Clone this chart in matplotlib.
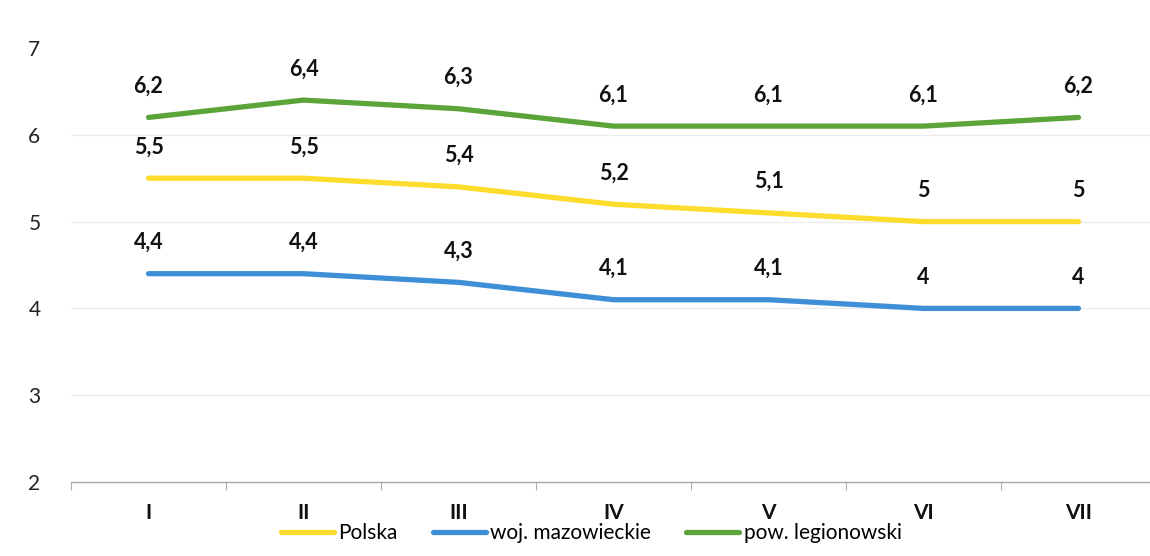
import matplotlib
matplotlib.use("Agg")
import matplotlib.pyplot as plt

months = ["I", "II", "III", "IV", "V", "VI", "VII"]
polska = [5.5, 5.5, 5.4, 5.2, 5.1, 5.0, 5.0]
mazowieckie = [4.4, 4.4, 4.3, 4.1, 4.1, 4.0, 4.0]
legionowski = [6.2, 6.4, 6.3, 6.1, 6.1, 6.1, 6.2]
series_names = ["Polska", "woj. mazowieckie", "pow. legionowski"]
colors = ["#fddc2e", "#3f8fd8", "#5aa43a"]
yticks = [2, 3, 4, 5, 6, 7]

plt.rcParams['font.family'] = ['Lato', 'DejaVu Sans']

W, H = 1150, 556
fig = plt.figure(figsize=(W / 100, H / 100), dpi=100)
left, right = 71 / W, 1156 / W
bottom, top = 1 - 482 / H, 1 - 48 / H
ax = fig.add_axes([left, bottom, right - left, top - bottom])

x = list(range(len(months)))
lines = []
for vals, c, name in zip([polska, mazowieckie, legionowski], colors, series_names):
    ln, = ax.plot(x, vals, color=c, lw=3.8, solid_capstyle='round', label=name, zorder=3)
    lines.append(ln)
    for xi, v in zip(x, vals):
        s = f"{v:g}".replace('.', ',')
        ax.annotate(s, (xi, v), xytext=(0, 15), textcoords='offset points',
                    ha='center', va='bottom', fontsize=15.5, fontweight='bold', color='#111111')

ax.set_xlim(-0.5, 6.5)
ax.set_ylim(2, 7)
ax.set_yticks(yticks)
ax.set_yticklabels([str(t) for t in yticks], fontsize=15, color='#222222')
for t in yticks[1:-1]:
    ax.axhline(t, color='#ececec', lw=0.9, zorder=1)

ax.set_xticks(x)
ax.set_xticklabels(months, fontsize=15, fontweight='bold', color='#111111')
ax.set_xticks([i - 0.5 for i in range(len(months) + 1)], minor=True)
ax.tick_params(axis='x', which='major', length=0, pad=15)
ax.tick_params(axis='x', which='minor', length=6, color='#b0b0b0', width=0.8)
ax.tick_params(axis='y', length=0, pad=22)
for sp in ['top', 'right', 'left']:
    ax.spines[sp].set_visible(False)
ax.spines['bottom'].set_color('#a8a8a8')
ax.spines['bottom'].set_linewidth(1.0)

fig.legend(handles=lines, labels=series_names, loc='center', bbox_to_anchor=(591 / W, 1 - 533 / H),
           ncol=3, frameon=False, fontsize=15, handlelength=2.55, handletextpad=0.2,
           columnspacing=1.7)

fig.savefig("out.png", dpi=100, facecolor='white')
